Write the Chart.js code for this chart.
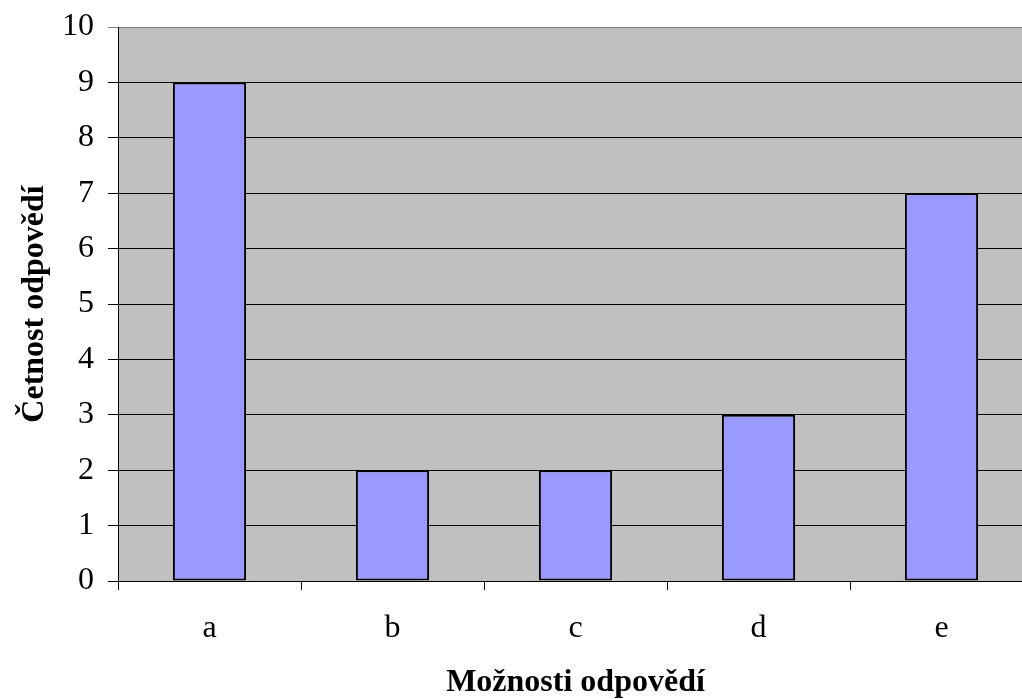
<!DOCTYPE html>
<html>
<head>
<meta charset="utf-8">
<script src="https://cdn.jsdelivr.net/npm/chart.js@4.4.1/dist/chart.umd.min.js"></script>
<style>
  html, body { margin: 0; padding: 0; background: #fff; overflow: hidden; }
  #wrap { position: relative; width: 1060px; height: 699px; }
</style>
</head>
<body>
<div id="wrap"><canvas id="c" width="1060" height="699"></canvas></div>
<script>
// Answer options and how many times each was chosen
const categories = ['a', 'b', 'c', 'd', 'e'];
const counts = [9, 2, 2, 3, 7];
const yTicks = [0, 1, 2, 3, 4, 5, 6, 7, 8, 9, 10];
const xTitle = 'Možnosti odpovědí';
const yTitle = 'Četnost odpovědí';

const FONT = '"Liberation Serif", "Times New Roman", serif';

// Grey plot-area fill behind the bars
const plotBg = {
  id: 'plotBg',
  beforeDraw(chart) {
    const { ctx, chartArea: a } = chart;
    ctx.save();
    ctx.fillStyle = '#C0C0C0';
    ctx.fillRect(a.left, a.top, a.right - a.left, a.bottom - a.top);
    ctx.restore();
  }
};

new Chart(document.getElementById('c'), {
  type: 'bar',
  data: {
    labels: categories,
    datasets: [{
      data: counts,
      backgroundColor: '#9999FF',
      borderColor: '#000000',
      borderWidth: 2,
      borderSkipped: false,
      categoryPercentage: 0.4,
      barPercentage: 1.0
    }]
  },
  options: {
    responsive: false,
    animation: false,
    devicePixelRatio: 1,
    layout: { padding: { left: 0, top: 27, right: 1060 - 1033, bottom: 0 } },
    plugins: { legend: { display: false }, tooltip: { enabled: false } },
    scales: {
      x: {
        offset: true,
        grid: {
          offset: true,
          drawOnChartArea: false,
          drawTicks: true,
          tickLength: 9,
          color: '#000000',
          lineWidth: 1
        },
        border: { display: true, color: '#000000', width: 1 },
        ticks: {
          color: '#000000',
          font: { family: FONT, size: 32 },
          padding: 19,
          maxRotation: 0
        },
        title: {
          display: true,
          text: xTitle,
          color: '#000000',
          font: { family: FONT, size: 32, weight: 'bold', lineHeight: '32px' },
          padding: { top: 0, bottom: 0 }
        },
        afterFit(scale) { scale.height = 699 - 581; }
      },
      y: {
        min: 0,
        max: 10,
        afterBuildTicks(scale) { scale.ticks = yTicks.map(v => ({ value: v })); },
        grid: {
          drawOnChartArea: true,
          drawTicks: true,
          tickLength: 10,
          color: (c) => (c.tick && c.tick.value === 10 ? '#808080' : '#000000'),
          lineWidth: 1
        },
        border: { display: true, color: '#000000', width: 1 },
        ticks: {
          color: '#000000',
          font: { family: FONT, size: 32, lineHeight: '24px' },
          padding: 14
        },
        title: {
          display: true,
          text: yTitle,
          color: '#000000',
          font: { family: FONT, size: 32, weight: 'bold', lineHeight: '22px' },
          padding: { top: 24, bottom: 24 }
        },
        afterFit(scale) { scale.width = 118; }
      }
    }
  },
  plugins: [plotBg]
});
</script>
</body>
</html>
